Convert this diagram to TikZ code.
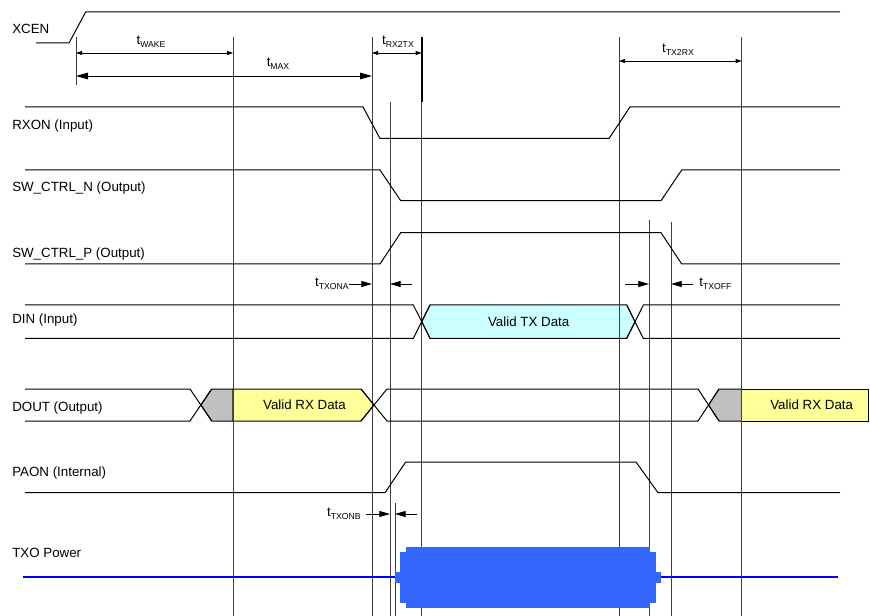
\documentclass[tikz,border=0pt]{standalone}
\usepackage{fontspec}
\setmainfont{Liberation Sans}
\usetikzlibrary{arrows.meta}

\definecolor{txcyan}{HTML}{CCFFFF}
\definecolor{rxyellow}{HTML}{FFFF99}
\definecolor{slotgray}{HTML}{C0C0C0}
\definecolor{pwrblue}{HTML}{3366FF}

\newcommand{\tlab}[1]{t\raisebox{-0.4ex}{\fontsize{6.5}{7}\selectfont #1}}

\begin{document}
\begin{tikzpicture}[x=0.75pt, y=-0.75pt,
        sig/.style={line width=0.75pt, black},
        guide/.style={line width=0.7pt, black!75},
        dimarrow/.style={{Triangle[length=4.5pt,width=3pt]}-{Triangle[length=4.5pt,width=3pt]}, line width=0.6pt},
        bigdim/.style={{Triangle[length=9pt,width=5pt]}-{Triangle[length=9pt,width=5pt]}, line width=0.6pt},
        ptr/.style={-{Triangle[length=8pt,width=4.5pt]}, line width=0.6pt},
        lbl/.style={font=\fontsize{10}{12}\selectfont, anchor=base west, inner sep=0pt},
        tlbl/.style={font=\fontsize{10}{12}\selectfont, inner sep=0pt},
        datatext/.style={font=\fontsize{10}{12}\selectfont, inner sep=0pt},
    ]
        \useasboundingbox (0,0) rectangle (870,616);

        % Signal names
        \node[lbl] (xcen) at (12,34) {XCEN};
        \node[lbl] (rxon) at (12,130) {RXON (Input)};
        \node[lbl] (swn) at (12,191.5) {SW\_CTRL\_N (Output)};
        \node[lbl] (swp) at (12,258) {SW\_CTRL\_P (Output)};
        \node[lbl] (din) at (12,323.5) {DIN (Input)};
        \node[lbl] (dout) at (12,411.5) {DOUT (Output)};
        \node[lbl] (paon) at (12,476.5) {PAON (Internal)};
        \node[lbl] (txo) at (12,557) {TXO Power};

        % Bus fills (under the guide lines)
        \filldraw[sig, fill=txcyan] (430,305) -- (626.7,305) -- (635,321.7) -- (626.7,338.3)
            -- (430,338.3) -- (421.7,321.7) -- cycle;
        \filldraw[sig, fill=slotgray] (201,405) -- (211.7,389) -- (233,389) -- (233,421) -- (211.7,421) -- cycle;
        \filldraw[sig, fill=rxyellow] (233,389) -- (361,389) -- (374,405) -- (361,421) -- (233,421) -- cycle;
        \filldraw[sig, fill=slotgray] (708.5,405) -- (719,389) -- (741.7,389) -- (741.7,421) -- (719,421) -- cycle;
        \filldraw[sig, fill=rxyellow] (741.7,389) rectangle (868,421);
        \node[datatext] (txdata) at (528.7,321.7) {Valid TX Data};
        \node[datatext] (rxdata1) at (304.5,405) {Valid RX Data};
        \node[datatext] (rxdata2) at (811.7,405) {Valid RX Data};

        % Timing guide lines
        \draw[guide] (76,37) -- (76,85);
        \foreach \x in {233,372,421.7,619,741.7}
            \draw[guide] (\x,37) -- (\x,616);
        \draw[guide] (390,102) -- (390,616);
        \draw[guide] (395,503) -- (395,616);
        \draw[guide] (649,220) -- (649,616);
        \draw[guide] (671,222) -- (671,616);
        \draw[line width=1.6pt] (421.7,37) -- (421.7,102);

        % Waveforms
        \draw[sig] (36,43) -- (69,43) -- (85.7,12) -- (840,12);
        \draw[sig] (25,107) -- (363,107) -- (380,138.5) -- (609,138.5) -- (630,107) -- (840,107);
        \draw[sig] (25,170) -- (380,170) -- (400.7,200.7) -- (661,200.7) -- (681.7,170) -- (840,170);
        \draw[sig] (25,264) -- (380,264) -- (400.7,232.7) -- (661,232.7) -- (681.7,264) -- (840,264);
        \draw[sig] (25,305) -- (413.3,305) -- (430,338.3);
        \draw[sig] (25,338.3) -- (413.3,338.3) -- (430,305);
        \draw[sig] (626.7,305) -- (643.3,338.3) -- (840,338.3);
        \draw[sig] (626.7,338.3) -- (643.3,305) -- (840,305);
        \draw[sig] (25,389) -- (190,389) -- (211.7,421);
        \draw[sig] (25,421) -- (190,421) -- (211.7,389);
        \draw[sig] (361,389) -- (387,421) -- (698,421) -- (719,389);
        \draw[sig] (361,421) -- (387,389) -- (698,389) -- (719,421);
        \draw[sig] (25,492.7) -- (385,492.7) -- (405.7,462) -- (636,462) -- (658,492.7) -- (840,492.7);

        % TXO power burst
        \draw[line width=1.7pt, blue] (23,576.7) -- (396,576.7);
        \draw[line width=1.7pt, blue] (660,576.7) -- (838,576.7);
        \fill[pwrblue] (395,571.7) rectangle (661,582.7);
        \fill[pwrblue] (400,552) rectangle (656,602.7);
        \fill[pwrblue] (405.7,547) rectangle (650,607.7);

        % Timing parameters
        \draw[dimarrow] (76,53) -- (233,53);
        \node[tlbl] (twake) at (151,42) {\tlab{WAKE}};
        \draw[bigdim] (76,76) -- (372,76);
        \node[tlbl] (tmax) at (278,64) {\tlab{MAX}};
        \draw[dimarrow] (372,53) -- (421.7,53);
        \node[tlbl] (trx2tx) at (398,42) {\tlab{RX2TX}};
        \draw[dimarrow] (619,61) -- (741.7,61);
        \node[tlbl] (ttx2rx) at (678,50) {\tlab{TX2RX}};

        \node[tlbl, anchor=east] (ttxona) at (349,284) {\tlab{TXONA}};
        \draw[ptr] (ttxona.east) -- (372,284);
        \draw[ptr] (412,284) -- (390,284);
        \node[tlbl, anchor=west] (ttxoff) at (699,284) {\tlab{TXOFF}};
        \draw[ptr] (625,284) -- (649,284);
        \draw[ptr] (ttxoff.west) ++(-6,0) -- (671,284);
        \node[tlbl, anchor=east] (ttxonb) at (361,514) {\tlab{TXONB}};
        \draw[ptr] (366,514) -- (390,514);
        \draw[ptr] (417,514) -- (395,514);

    \end{tikzpicture}
\end{document}
